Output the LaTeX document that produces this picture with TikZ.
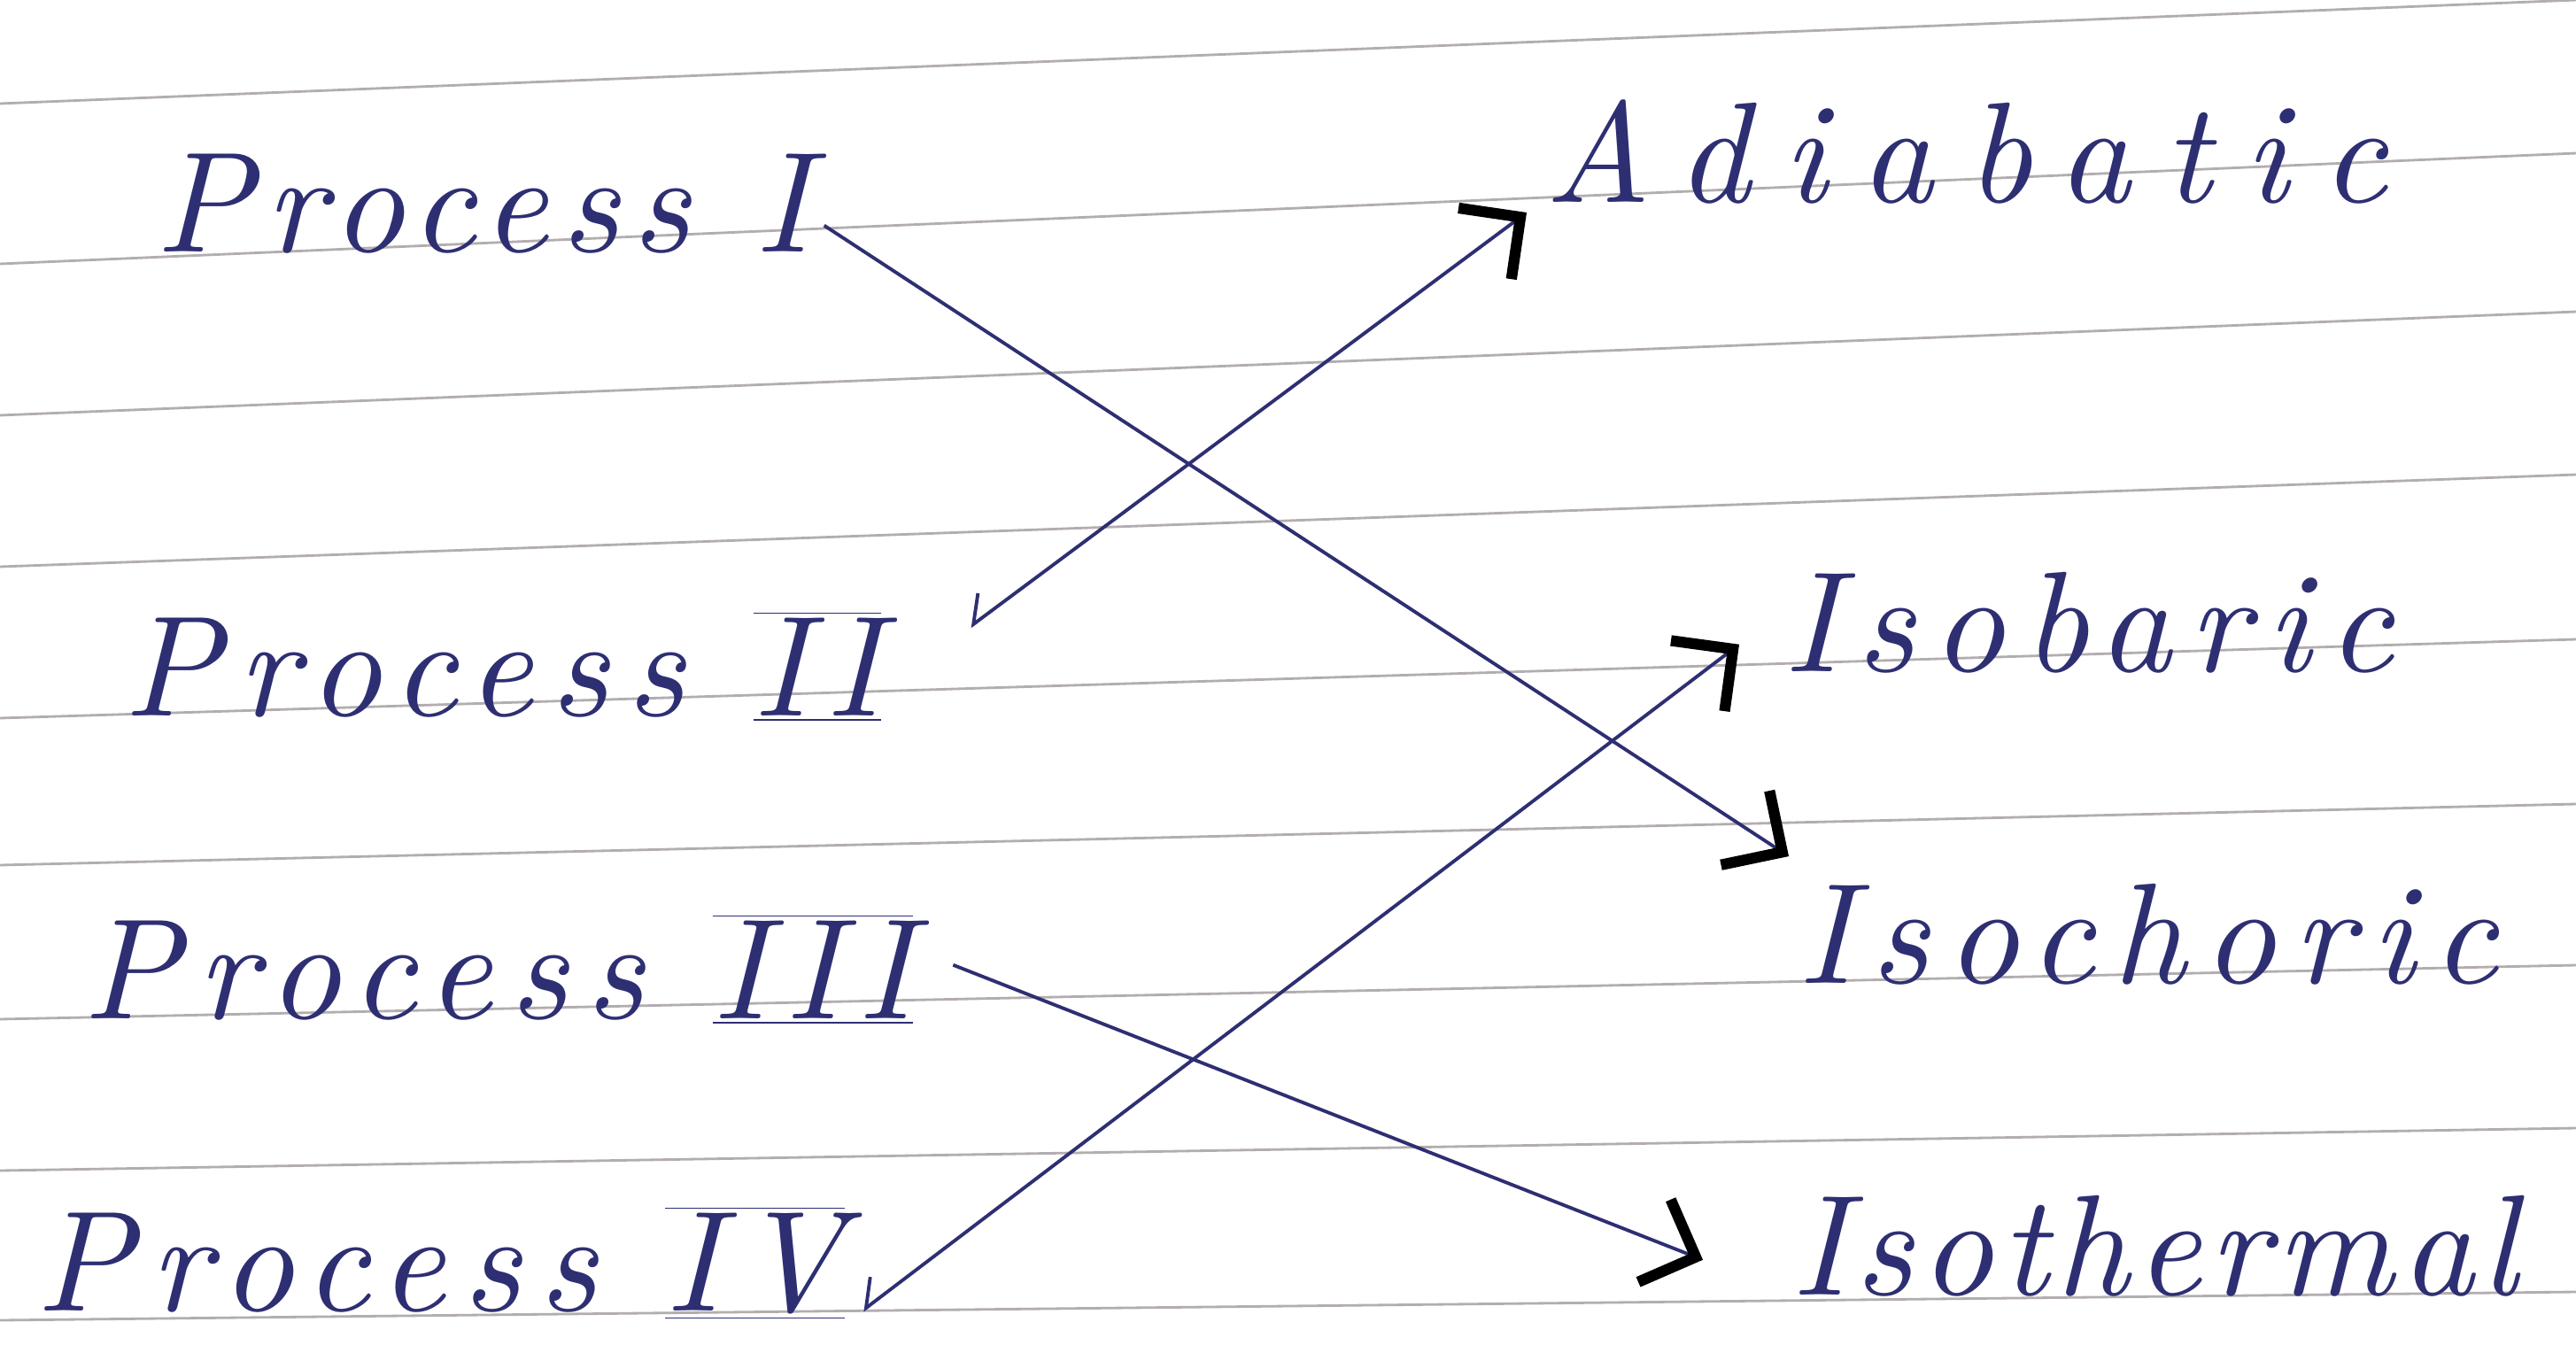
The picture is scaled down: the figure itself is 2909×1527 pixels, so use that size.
\documentclass[tikz,border=0pt]{standalone}
\usepackage{fontspec}
\usetikzlibrary{arrows.meta}

\newfontfamily\handfont{lmroman10-italic.otf}[LetterSpace=12]
\newfontfamily\tighthand{lmroman10-italic.otf}[LetterSpace=9]
\newfontfamily\narrowhand{lmroman10-italic.otf}[LetterSpace=5]
\newfontfamily\widehand{lmroman10-italic.otf}[LetterSpace=23]

\definecolor{ink}{HTML}{2E2F72}
\definecolor{ruling}{HTML}{B3ADB0}

\newcommand{\barnum}[1]{$\overline{\underline{\mbox{#1}}}$}

\begin{document}
\begin{tikzpicture}[x=0.01cm,y=-0.01cm,
word/.style={anchor=base west,inner sep=0pt,text=ink,
  font=#1\fontsize{46}{50}\selectfont},
word/.default=\handfont,
link/.style={draw=ink,line width=1.1pt,
  -{Straight Barb[color=black,line width=3.5pt,length=5mm,width=10mm]}},
hooked/.style={link,
  {Straight Barb[right,length=2.5mm,width=5mm]}-{Straight Barb[color=black,line width=3.5pt,length=5mm,width=10mm]}}]

\useasboundingbox (0,0) rectangle (2909,1527);
\fill[white] (0,0) rectangle (2909,1527);

\foreach \l/\r in {117/0,298/173,469/352,640/536,811/722,977/908,1151/1090,1322/1274,1491/1459}
  \draw[ruling,line width=0.8pt] (0,\l) -- (2909,\r);

\node[word=\tighthand]
(p1)
at (175,284)
{Process I};

\node[word]
(p2)
at (139,808)
{Process \barnum{II}};

\node[word]
(p3)
at (93,1150)
{Process \barnum{III}};

\node[word]
(p4)
at (40,1480)
{Process \barnum{IV}};

\node[word=\widehand]
(adiabatic)
at (1744,228)
{Adiabatic};

\node[word]
(isobaric)
at (2014,758)
{Isobaric};

\node[word]
(isochoric)
at (2030,1110)
{Isochoric};

\node[word=\narrowhand]
(isothermal)
at (2023,1462)
{Isothermal};

\draw[link]
([shift={(15,25)}]p1.east)--([shift={(-10,-30)}]isochoric.north west);

\draw[hooked]
([shift={(100,-45)}]p2.east)--([shift={(-20,12)}]adiabatic.base west);

\draw[link]
([shift={(45,-5)}]p3.east)--([shift={(-100,16)}]isothermal.west);

\draw[hooked]
([shift={(20,0)}]p4.base east)--([shift={(-50,25)}]isobaric.west);

\end{tikzpicture}
\end{document}
